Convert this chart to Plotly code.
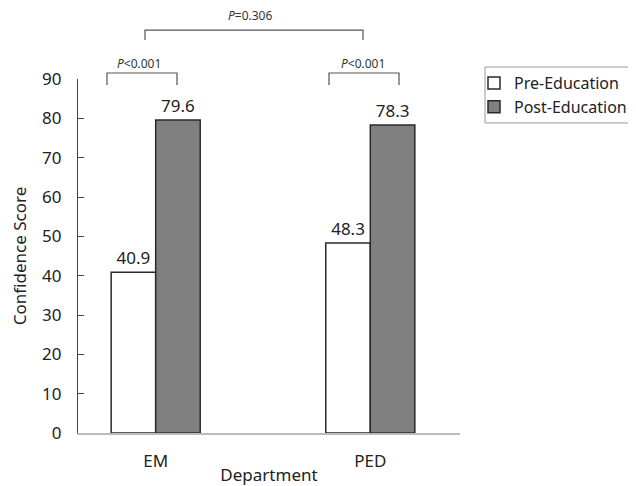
import plotly.graph_objects as go

departments = ["EM", "PED"]
pre_education = [40.9, 48.3]
post_education = [79.6, 78.3]
y_ticks = [0, 10, 20, 30, 40, 50, 60, 70, 80, 90]
within_p = ["<i>P</i>&lt;0.001", "<i>P</i>&lt;0.001"]
between_p = "<i>P</i>=0.306"

FONT = "Noto Sans"
OFF = 8  # page body margin
W, H = 628, 478
ML, MR, MT = 70, 176, 71
PW = W - ML - MR
PH = 354.5
MB = H - MT - PH


def px(x):
    return (x - OFF - ML) / PW


def py(y):
    return (MT + PH + OFF - y) / PH


fig = go.Figure()
fig.add_trace(go.Bar(
    x=departments, y=pre_education, name="Pre-Education",
    marker=dict(color="white", line=dict(color="#2a2a2a", width=1.5)),
    text=[f"{v:.1f}" for v in pre_education], textposition="outside",
    textfont=dict(size=17, color="#222", family=FONT), cliponaxis=False,
))
fig.add_trace(go.Bar(
    x=departments, y=post_education, name="Post-Education",
    marker=dict(color="#808080", line=dict(color="#2a2a2a", width=1.5)),
    text=[f"{v:.1f}" for v in post_education], textposition="outside",
    textfont=dict(size=17, color="#222", family=FONT), cliponaxis=False,
))

shapes = []
def bracket(x0, x1, ytop, ybot):
    shapes.append(dict(type="path", xref="paper", yref="paper",
                       path=f"M{px(x0)},{py(ybot)} L{px(x0)},{py(ytop)} L{px(x1)},{py(ytop)} L{px(x1)},{py(ybot)}",
                       line=dict(color="#555", width=1.2)))

bracket(107, 177, 73, 85)
bracket(329, 399, 73, 85)
bracket(145, 363, 30, 40)

# legend frame
shapes.append(dict(type="rect", xref="paper", yref="paper",
                   x0=px(485), x1=px(700), y0=py(123), y1=py(67),
                   line=dict(color="#999", width=1), fillcolor="rgba(0,0,0,0)"))

def note(x, y, text):
    return dict(x=px(x), y=py(y), xref="paper", yref="paper", text=text, showarrow=False,
                xanchor="center", yanchor="middle",
                font=dict(size=12, color="#333", family=FONT))

annotations = [
    note(139, 63, within_p[0]),
    note(363, 63, within_p[1]),
    note(250, 15, between_p),
]

fig.update_layout(
    width=W, height=H,
    margin=dict(l=ML, r=MR, t=MT, b=MB, autoexpand=False),
    paper_bgcolor="white", plot_bgcolor="white",
    barmode="group", bargap=0.585, bargroupgap=0,
    font=dict(family=FONT, size=17, color="#222"),
    shapes=shapes, annotations=annotations,
    legend=dict(x=px(474), y=py(66), xanchor="left", yanchor="top",
                borderwidth=0, bgcolor="rgba(0,0,0,0)", font=dict(size=16, family=FONT),
                tracegroupgap=0, itemwidth=30),
    xaxis=dict(range=[-0.362, 1.418], showline=True, linecolor="#bbbbbb", linewidth=2,
               ticks="", showgrid=False, zeroline=False, automargin=False,
               ticklabelstandoff=12,
               title=dict(text="Department", standoff=0, font=dict(size=17)),
               tickfont=dict(size=17)),
    yaxis=dict(range=[0, 90], tickvals=y_ticks, showline=True, linecolor="#444", linewidth=1.2,
               ticks="inside", ticklen=6, tickcolor="#444", showgrid=False, zeroline=False,
               ticklabelstandoff=12, automargin=False,
               title=dict(text="Confidence Score", standoff=12, font=dict(size=17)),
               tickfont=dict(size=17)),
)

fig.write_html("out.html")
